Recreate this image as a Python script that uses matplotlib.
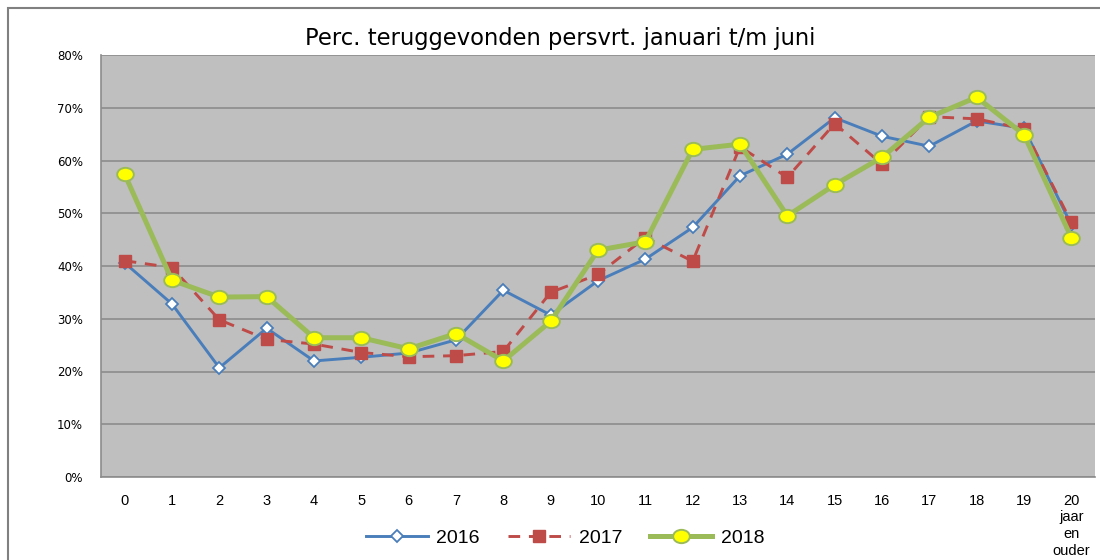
import matplotlib
matplotlib.use("Agg")
import matplotlib.pyplot as plt
from matplotlib.patches import Rectangle
from matplotlib.path import Path
from matplotlib.transforms import Affine2D
from matplotlib.ticker import FuncFormatter

categories = [str(i) for i in range(20)] + ["20\njaar\nen\nouder"]
s2016 = [40.6, 32.8, 20.7, 28.2, 22.0, 22.7, 23.5, 26.0, 35.4, 30.7, 37.2,
         41.3, 47.3, 57.1, 61.2, 68.1, 64.6, 62.7, 67.5, 66.1, 47.8]
s2017 = [41.0, 39.7, 29.8, 26.1, 25.2, 23.6, 22.8, 23.0, 23.8, 35.0, 38.4,
         45.4, 40.9, 62.6, 56.8, 67.0, 59.3, 68.3, 67.9, 66.0, 48.3]
s2018 = [57.4, 37.3, 34.1, 34.2, 26.4, 26.4, 24.3, 27.2, 22.0, 29.5, 43.0,
         44.6, 62.1, 63.1, 49.5, 55.4, 60.6, 68.2, 72.0, 64.9, 45.4]
series_names = ["2016", "2017", "2018"]
title = "Perc. teruggevonden persvrt. januari t/m juni"

ellipse = Path.unit_circle().transformed(Affine2D().scale(1.0, 0.8))

fig = plt.figure(figsize=(11, 5.6), dpi=100)
fig.patch.set_facecolor("white")
fig.patches.append(Rectangle((8/1100, -0.1), 1.2, 1 - 8/560 + 0.1,
                             transform=fig.transFigure, fill=False,
                             edgecolor="#808080", linewidth=1.5))

ax = fig.add_axes([101/1100, 1 - 477/560, 994/1100, 422/560])
ax.set_facecolor("#BFBFBF")
x = list(range(len(categories)))

ax.plot(x, s2016, color="#4A7EBB", lw=2.1, marker="D", ms=6,
        mfc="white", mec="#4A7EBB", mew=1.3, label=series_names[0], zorder=3)
ax.plot(x, s2017, color="#BE4B48", lw=2.1, ls=(0, (4, 3)), marker="s", ms=8.5,
        mfc="#BE4B48", mec="#BE4B48", label=series_names[1], zorder=4)
ax.plot(x, s2018, color="#9BBB59", lw=3.6, marker=ellipse, ms=12,
        mfc="#FFFF00", mec="#9BBB59", mew=1.4, label=series_names[2], zorder=5)

ax.set_xlim(-0.5, 20.5)
ax.set_ylim(0, 80)
ax.set_yticks(range(0, 81, 10))
ax.yaxis.set_major_formatter(FuncFormatter(lambda v, p: f"{int(v)}%"))
ax.set_xticks(x)
ax.set_xticklabels(categories, fontsize=10.5, family="Liberation Sans",
                   linespacing=1.25, va="top")
for lab in ax.get_yticklabels():
    lab.set_fontsize(8.5)
    lab.set_family("DejaVu Sans")
ax.tick_params(axis="both", length=0, colors="#000000")
ax.tick_params(axis="y", pad=13)
ax.tick_params(axis="x", pad=12)
ax.grid(axis="y", color="#8C8C8C", lw=1.2)
ax.set_axisbelow(True)
for side in ["top", "right"]:
    ax.spines[side].set_visible(False)
for side in ["left", "bottom"]:
    ax.spines[side].set_color("#8C8C8C")
    ax.spines[side].set_linewidth(1.2)

fig.text(560/1100, 1 - 38/560, title, ha="center", va="center",
         fontsize=16.3, family="DejaVu Sans")

leg = fig.legend(loc="center", bbox_to_anchor=(565/1100, 1 - 538/560),
                 ncol=3, frameon=False, handlelength=3.2,
                 columnspacing=1.45, handletextpad=0.43,
                 prop={"family": "Liberation Sans", "size": 14})

fig.savefig("out.png", dpi=100)
